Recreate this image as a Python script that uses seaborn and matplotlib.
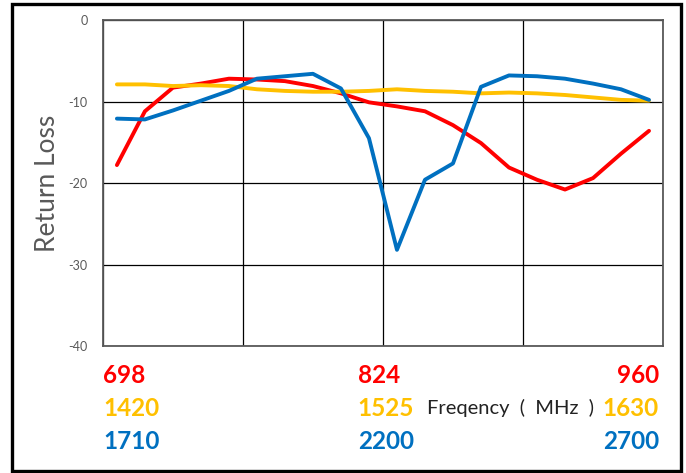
import matplotlib
matplotlib.use("Agg")
import matplotlib.pyplot as plt
from matplotlib.patches import Rectangle
import seaborn as sns
import pandas as pd
import numpy as np

# sample index along the sweep (20 points, same positions for all three bands)
step = list(range(20))

# return loss readings (dB) per band
low_band = [-17.8, -11.2, -8.3, -7.8, -7.2, -7.3, -7.5, -8.1, -9.0, -10.1,
            -10.6, -11.2, -12.9, -15.1, -18.1, -19.6, -20.8, -19.4, -16.4, -13.6]
mid_band = [-7.9, -7.9, -8.1, -8.0, -8.1, -8.5, -8.7, -8.8, -8.8, -8.7,
            -8.5, -8.7, -8.8, -9.0, -8.9, -9.0, -9.2, -9.5, -9.8, -9.9]
high_band = [-12.1, -12.2, -11.1, -9.9, -8.7, -7.2, -6.9, -6.6, -8.4, -14.5,
             -28.2, -19.6, -17.6, -8.2, -6.8, -6.9, -7.2, -7.8, -8.5, -9.8]

# frequency labels (MHz) under the axis: start / middle / end of each band
band_start = ["698", "1420", "1710"]
band_mid = ["824", "1525", "2200"]
band_end = ["960", "1630", "2700"]

band_names = ["698-960", "1420-1630", "1710-2700"]
band_colors = ["#FF0000", "#FFC000", "#0070C0"]
y_ticks = [0, -10, -20, -30, -40]

df = pd.concat([
    pd.DataFrame({"step": step, "rl": vals, "band": name})
    for name, vals in zip(band_names, [low_band, mid_band, high_band])
])

sns.set_style("white")
plt.rcParams["font.family"] = ["Lato", "DejaVu Sans"]

fig = plt.figure(figsize=(6.86, 4.73), dpi=100)
ax = fig.add_axes([0.150, 0.2685, 0.8165, 0.6892])

sns.lineplot(data=df, x="step", y="rl", hue="band", palette=band_colors,
             linewidth=2.8, legend=False, ax=ax, zorder=3)

ax.set_xlim(-0.5, 19.5)
ax.set_ylim(-40, 0)
ax.set_xticks(np.arange(-0.5, 20, 5))
ax.set_xticklabels([])
ax.set_yticks(y_ticks)
ax.set_yticklabels([str(t) for t in y_ticks], color="#595959", fontsize=9)
ax.tick_params(axis="both", length=0)
ax.tick_params(axis="y", pad=11)
ax.grid(True, color="black", linewidth=0.9)
for s in ax.spines.values():
    s.set_color("#595959")
    s.set_linewidth(1.3)
ax.set_xlabel("")
ax.set_ylabel("Return Loss", fontsize=19, color="#595959", labelpad=6)

# band frequency labels
rows_y = [1 - 375 / 473, 1 - 408 / 473, 1 - 441 / 473]
for yy, a, b, c, col in zip(rows_y, band_start, band_mid, band_end, band_colors):
    fig.text(0.150, yy, a, color=col, fontsize=17.5, fontweight="bold", ha="left", va="center")
    fig.text(0.5214, yy, b, color=col, fontsize=17.5, fontweight="bold", ha="left", va="center")
    fig.text(0.9606, yy, c, color=col, fontsize=17.5, fontweight="bold", ha="right", va="center")
fig.text(0.6224, rows_y[1], "Freqency  (  MHz  )", color="#222222", fontsize=14.5,
         ha="left", va="center")

# outer frame
fig.patches.append(Rectangle((0.018, 0.004), 0.975, 0.988, transform=fig.transFigure,
                             fill=False, edgecolor="black", linewidth=2.4))

fig.savefig("out.png", dpi=100)
